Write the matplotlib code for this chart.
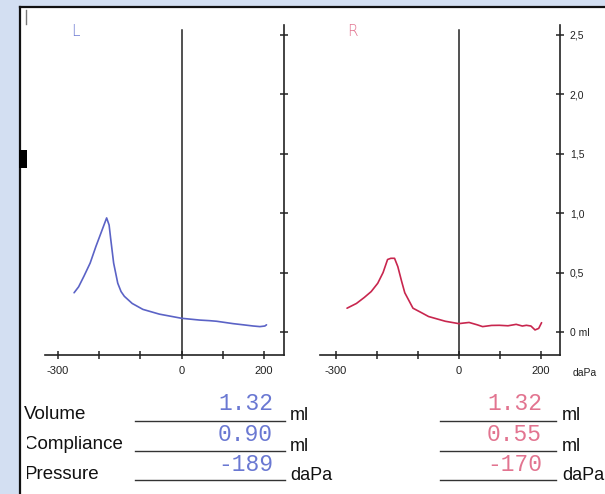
import matplotlib
matplotlib.use("Agg")
import matplotlib.pyplot as plt
from matplotlib.lines import Line2D
from matplotlib.patches import Rectangle

# ---------------- data ----------------
left_pressure = [-261, -250, -237, -222, -208, -195, -182, -176, -172, -165, -155, -147, -139, -120, -94, -54, 0, 44, 68, 85, 125, 150, 174, 190, 202, 206]
left_volume   = [0.33, 0.38, 0.47, 0.58, 0.72, 0.84, 0.96, 0.90, 0.78, 0.58, 0.41, 0.34, 0.30, 0.24, 0.19, 0.15, 0.115, 0.10, 0.095, 0.09, 0.07, 0.06, 0.05, 0.045, 0.05, 0.06]

right_pressure = [-273, -250, -231, -214, -198, -185, -174, -166, -157, -149, -140, -132, -112, -90, -74, -33, 0, 12, 25, 45, 58, 80, 99, 120, 140, 155, 165, 176, 186, 195, 202]
right_volume   = [0.20, 0.24, 0.29, 0.34, 0.41, 0.50, 0.61, 0.62, 0.62, 0.55, 0.43, 0.33, 0.20, 0.16, 0.13, 0.09, 0.07, 0.075, 0.08, 0.06, 0.045, 0.055, 0.056, 0.052, 0.064, 0.05, 0.056, 0.05, 0.017, 0.03, 0.078]

x_ticks = [-300, -200, -100, 0, 100, 200]
x_tick_labels = ["-300", "", "", "0", "", "200"]
y_ticks = [0, 0.5, 1.0, 1.5, 2.0, 2.5]
y_tick_labels = ["0 ml", "0,5", "1,0", "1,5", "2,0", "2,5"]

row_labels = ["Volume", "Compliance", "Pressure"]
row_units = ["ml", "ml", "daPa"]
left_values = ["1.32", "0.90", "-189"]
right_values = ["1.32", "0.55", "-170"]

# ---------------- styling ----------------
W, H = 605, 494
BG = "#d3dff2"
BLUE_LINE = "#5b63c6"
RED_LINE = "#c8264e"
BLUE_TXT = "#6a78d2"
RED_TXT = "#e27490"
AX_COL = "#222222"

fig = plt.figure(figsize=(W / 100, H / 100), dpi=100, facecolor=BG)


def fx(x):
    return x / W


def fy(y):
    return 1 - y / H


# paper
fig.patches.append(Rectangle((fx(19), 0), 1 - fx(19), fy(7), transform=fig.transFigure,
                             facecolor="white", edgecolor="none", zorder=-5))


def make_axes(x0, x1, y0, y1, xlim, color, xs, ys, show_ylabels):
    ax = fig.add_axes([fx(x0), fy(y1), fx(x1) - fx(x0), fy(y0) - fy(y1)])
    ax.set_facecolor("none")
    ax.set_xlim(*xlim)
    ax.set_ylim(-0.194, 2.584)
    for s in ["left", "top"]:
        ax.spines[s].set_visible(False)
    for s in ["bottom", "right"]:
        ax.spines[s].set_color(AX_COL)
        ax.spines[s].set_linewidth(1.2)
    ax.yaxis.tick_right()
    ax.set_xticks(x_ticks)
    ax.set_xticklabels(x_tick_labels, fontsize=8, family="Liberation Sans", color="#222222")
    ax.set_yticks(y_ticks)
    if show_ylabels:
        ax.set_yticklabels(y_tick_labels, fontsize=7.5, family="Liberation Sans", color="#222222")
    else:
        ax.set_yticklabels([])
    ax.tick_params(axis="both", direction="inout", length=6, width=1.1, color=AX_COL)
    ax.tick_params(axis="x", pad=5)
    ax.tick_params(axis="y", pad=4)
    # zero-pressure reference line
    ax.axvline(0, ymin=0, ymax=(2.54 + 0.194) / (2.584 + 0.194), color=AX_COL, lw=1.1)
    ax.plot(xs, ys, color=color, lw=1.2, solid_capstyle="round")
    return ax


axL = make_axes(45, 284, 25, 355, (-331.6, 248.5), BLUE_LINE, left_pressure, left_volume, False)
axR = make_axes(320, 560, 25, 355, (-339, 247), RED_LINE, right_pressure, right_volume, True)

# daPa label
fig.text(fx(573), fy(373), "daPa", fontsize=7.5, family="Liberation Sans", color="#222222",
         va="center", ha="left")

# ear letters
fig.text(fx(71), fy(32), "L", fontsize=11, family="DejaVu Sans", color=BLUE_TXT,
         va="center", ha="left", fontweight="light")
fig.text(fx(347), fy(32), "R", fontsize=11, family="DejaVu Sans", color=RED_TXT,
         va="center", ha="left", fontweight="light")

# result rows
row_y = [414, 444, 474]
line_y = [421, 451, 480]
val_y = [404, 434, 464]
for i in range(3):
    fig.text(fx(24), fy(row_y[i]), row_labels[i], fontsize=13.5, family="Liberation Sans",
             color="#111111", va="center", ha="left")
    fig.lines.append(Line2D([fx(135), fx(285)], [fy(line_y[i])] * 2, transform=fig.transFigure,
                            color="#333333", lw=1.0))
    fig.lines.append(Line2D([fx(440), fx(556)], [fy(line_y[i])] * 2, transform=fig.transFigure,
                            color="#333333", lw=1.0))
    fig.text(fx(290), fy(line_y[i] - 5), row_units[i], fontsize=13, family="Liberation Sans",
             color="#111111", va="center", ha="left")
    fig.text(fx(562), fy(line_y[i] - 5), row_units[i], fontsize=13, family="Liberation Sans",
             color="#111111", va="center", ha="left")
    fig.text(fx(273), fy(val_y[i]), left_values[i], fontsize=16.5, family="Liberation Mono",
             color=BLUE_TXT, va="center", ha="right")
    fig.text(fx(542), fy(val_y[i]), right_values[i], fontsize=16.5, family="Liberation Mono",
             color=RED_TXT, va="center", ha="right")

# faded left edge of the lower label block
fig.patches.append(Rectangle((fx(19), 0), fx(8), fy(428), transform=fig.transFigure,
                             facecolor="white", edgecolor="none", zorder=4))
# cover margins and draw paper border
fig.patches.append(Rectangle((0, 0), fx(19), 1, transform=fig.transFigure,
                             facecolor=BG, edgecolor="none", zorder=5))
fig.patches.append(Rectangle((0, fy(7)), 1, 1 - fy(7), transform=fig.transFigure,
                             facecolor=BG, edgecolor="none", zorder=5))
fig.lines.append(Line2D([fx(19.5), fx(19.5)], [0, fy(7.5)], transform=fig.transFigure,
                        color="#111111", lw=1.6, zorder=6))
fig.lines.append(Line2D([fx(19.5), 1], [fy(7.5), fy(7.5)], transform=fig.transFigure,
                        color="#111111", lw=1.6, zorder=6))
# black marker block on left edge
fig.patches.append(Rectangle((fx(19), fy(168)), fx(8), fy(150) - fy(168), transform=fig.transFigure,
                             facecolor="black", edgecolor="none", zorder=6))
# small pen mark near top-left
fig.lines.append(Line2D([fx(26), fx(26)], [fy(10), fy(24)], transform=fig.transFigure,
                        color="#777777", lw=1.0, zorder=6))

fig.savefig("out.png", dpi=100, facecolor=BG)
